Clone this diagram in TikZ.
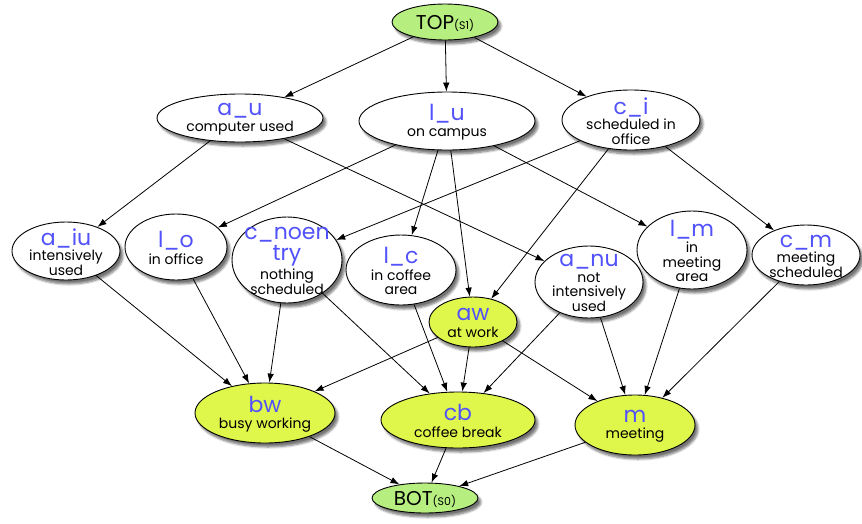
\documentclass[tikz,border=0pt]{standalone}
\usepackage{fontspec}
\setmainfont{Poppins}
\usetikzlibrary{shapes.geometric,shadows.blur,arrows.meta}
\definecolor{lblue}{RGB}{82,82,252}
\definecolor{tgreen}{RGB}{182,238,128}
\definecolor{ygreen}{RGB}{223,246,74}
\newcommand\lb[1]{{\color{lblue}\fontsize{22}{22}\selectfont #1}}
\pgfdeclarelayer{bg}
\pgfsetlayers{bg,main}
\tikzset{
 st/.style={ellipse, draw=black, line width=0.9pt, inner sep=0pt,
   blur shadow={shadow xshift=3pt, shadow yshift=-4pt, shadow blur steps=6, shadow opacity=55}},
 wn/.style={st, fill=white},
 gn/.style={st, fill=tgreen},
 yn/.style={st, fill=ygreen},
 txt/.style={inner sep=0pt, align=center, font=\fontsize{14}{14.5}\selectfont},
 arr/.style={-{Latex[length=9pt,width=6.5pt]}, line width=0.8pt}
}
\newcommand\enode[7]{%
  \node[#1, minimum width=#5pt, minimum height=#6pt] (#2) at (#3,#4) {};
  \node[txt] (#2t) at ([yshift=-1pt]#2.center) {#7};}
\begin{document}
\begin{tikzpicture}[x=1pt,y=-1pt]
\useasboundingbox (0,0) rectangle (862,523);
\enode{gn}{top}{445}{22}{106}{36}{\fontsize{20}{20}\selectfont TOP\fontsize{11}{11}\selectfont(S1)}
\enode{wn}{au}{240}{118}{166}{48}{\lb{a\_u}\\[1pt]computer used}
\enode{wn}{lu}{447}{121}{176}{58}{\lb{l\_u}\\[2pt]on campus}
\enode{wn}{ci}{631}{120}{138}{60}{\lb{c\_i}\\[1pt]scheduled in\\office}
\enode{wn}{aiu}{66}{251}{108}{58}{\lb{a\_iu}\\[1pt]intensively\\used}
\enode{wn}{lo}{176}{247}{102}{66}{\lb{l\_o}\\[2pt]in office}
\enode{wn}{cn}{287}{260}{110}{86}{\lb{c\_noen}\\[2pt]\lb{try}\\[2pt]nothing\\scheduled}
\enode{wn}{lc}{401}{270}{110}{70}{\lb{l\_c}\\[2pt]in coffee\\area}
\enode{wn}{anu}{589}{282}{108}{72}{\lb{a\_nu}\\[1pt]not\\intensively\\used}
\enode{wn}{lm}{692}{250}{110}{78}{\lb{l\_m}\\[2pt]in\\meeting\\area}
\enode{wn}{cm}{806}{255}{108}{60}{\lb{c\_m}\\[1pt]meeting\\scheduled}
\enode{yn}{aw}{473}{322}{88}{50}{\lb{aw}\\[2pt]at work}
\enode{yn}{bw}{265}{413}{140}{60}{\lb{bw}\\[2pt]busy working}
\enode{yn}{cb}{458}{420}{154}{56}{\lb{cb}\\[2pt]coffee break}
\enode{yn}{m}{635}{425}{120}{60}{\lb{m}\\[2pt]meeting}
\enode{gn}{bot}{425}{498}{106}{30}{\fontsize{20}{20}\selectfont BOT\fontsize{11}{11}\selectfont(S0)}
\begin{pgfonlayer}{bg}
\foreach \a/\b in {top/au,top/lu,top/ci,au/aiu,au/anu,lu/lo,lu/lc,lu/aw,lu/lm,
  ci/cn,ci/aw,ci/cm,aiu/bw,lo/bw,cn/bw,cn/cb,lc/cb,aw/bw,aw/cb,aw/m,anu/cb,anu/m,
  lm/m,cm/m,bw/bot,cb/bot,m/bot}
  \draw[arr] (\a) -- (\b);
\end{pgfonlayer}
\end{tikzpicture}
\end{document}
